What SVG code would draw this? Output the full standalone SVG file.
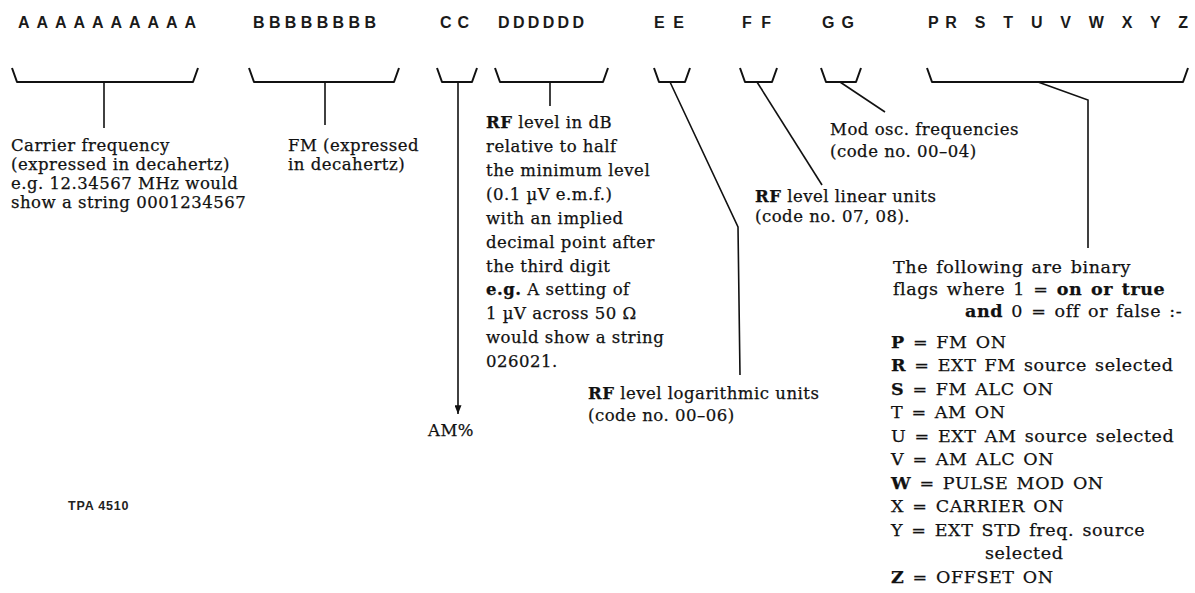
<svg xmlns="http://www.w3.org/2000/svg" width="1195" height="593" viewBox="0 0 1195 593">
<style>
.code{font-family:"Liberation Sans",Arial,sans-serif;font-weight:bold;font-size:16px;fill:#1a1a1a}
.t{font-family:"DejaVu Serif","Liberation Serif",serif;font-size:16.5px;letter-spacing:0.5px;fill:#111;stroke:#111;stroke-width:0.25}
.f{font-size:17.5px;letter-spacing:0.6px;word-spacing:2px}
.b{font-weight:bold}
.br{fill:none;stroke:#111;stroke-width:2;stroke-linejoin:round}
.ln{fill:none;stroke:#111;stroke-width:1.6}
.tag{font-family:"Liberation Sans",Arial,sans-serif;font-weight:bold;font-size:12.5px;letter-spacing:0.8px;fill:#222}
</style>
<defs>
<marker id="ah" viewBox="0 0 10 8" refX="10" refY="4" markerWidth="9" markerHeight="7" markerUnits="userSpaceOnUse" orient="auto">
<path d="M0,0 L10,4 L0,8 Z" fill="#111"/>
</marker>
</defs>
<rect width="1195" height="593" fill="#fff"/>

<g id="node-A">
<text class="code" x="18" y="28" textLength="178" lengthAdjust="spacing">AAAAAAAAAA</text>
<path class="br" d="M12,68 L17,82 L193,82 L198,68"/>
<text class="t"><tspan x="11" y="151">Carrier frequency</tspan><tspan x="11" y="170">(expressed in decahertz)</tspan><tspan x="11" y="189">e.g. 12.34567 MHz would</tspan><tspan x="11" y="208">show a string 0001234567</tspan></text>
</g>

<g id="node-B">
<text class="code" x="253" y="28" textLength="123" lengthAdjust="spacing">BBBBBBBB</text>
<path class="br" d="M249,68 L254,82 L394,82 L399,68"/>
<text class="t"><tspan x="288" y="151">FM (expressed</tspan><tspan x="288" y="170">in decahertz)</tspan></text>
</g>

<g id="node-C">
<text class="code" x="440" y="28" textLength="29" lengthAdjust="spacing">CC</text>
<path class="br" d="M437,68 L442,82 L472,82 L477,68"/>
<text class="t" x="428" y="436">AM%</text>
</g>

<g id="node-D">
<text class="code" x="498" y="28" textLength="86" lengthAdjust="spacing">DDDDDD</text>
<path class="br" d="M495,68 L500,82 L603,82 L608,68"/>
<text class="t">
<tspan x="486" y="128"><tspan class="b">RF</tspan> level in dB</tspan>
<tspan x="486" y="152">relative to half</tspan>
<tspan x="486" y="176">the minimum level</tspan>
<tspan x="486" y="200">(0.1 µV e.m.f.)</tspan>
<tspan x="486" y="224">with an implied</tspan>
<tspan x="486" y="248">decimal point after</tspan>
<tspan x="486" y="272">the third digit</tspan>
<tspan x="486" y="295"><tspan class="b">e.g.</tspan>  A setting of</tspan>
<tspan x="486" y="319">1 µV across 50 Ω</tspan>
<tspan x="486" y="343">would show a string</tspan>
<tspan x="486" y="367">026021.</tspan>
</text>
</g>

<g id="node-E">
<text class="code" x="654" y="28" textLength="30" lengthAdjust="spacing">EE</text>
<path class="br" d="M654,68 L659,82 L685,82 L690,68"/>
<text class="t"><tspan x="588" y="399"><tspan class="b">RF</tspan> level logarithmic units</tspan><tspan x="588" y="421">(code no.  00–06)</tspan></text>
</g>

<g id="node-F">
<text class="code" x="742" y="28" textLength="29" lengthAdjust="spacing">FF</text>
<path class="br" d="M740,68 L745,82 L772,82 L777,68"/>
<text class="t"><tspan x="755" y="202"><tspan class="b">RF</tspan> level linear units</tspan><tspan x="755" y="222">(code no.  07, 08).</tspan></text>
</g>

<g id="node-G">
<text class="code" x="822" y="28" textLength="32" lengthAdjust="spacing">GG</text>
<path class="br" d="M821,68 L826,82 L856,82 L861,68"/>
<text class="t"><tspan x="830" y="135">Mod osc.  frequencies</tspan><tspan x="830" y="157">(code no.  00–04)</tspan></text>
</g>

<g id="node-flags">
<text class="code" x="928" y="28" textLength="260" lengthAdjust="spacing">PR S T U V W X Y Z</text>
<path class="br" d="M927,68 L932,82 L1183,82 L1188,68"/>
<text class="t f">
<tspan x="893" y="273">The following are binary</tspan>
<tspan x="893" y="295">flags where  1 = <tspan class="b">on or true</tspan></tspan>
<tspan x="965" y="317"><tspan class="b">and</tspan>  0 = off or false :-</tspan>
<tspan x="891" y="348"><tspan class="b">P</tspan> =  FM ON</tspan>
<tspan x="891" y="371"><tspan class="b">R</tspan> =  EXT FM source selected</tspan>
<tspan x="891" y="395"><tspan class="b">S</tspan> =  FM ALC ON</tspan>
<tspan x="891" y="418">T =  AM ON</tspan>
<tspan x="891" y="442">U =  EXT AM source selected</tspan>
<tspan x="891" y="465">V =  AM ALC ON</tspan>
<tspan x="891" y="489"><tspan class="b">W</tspan> =  PULSE MOD ON</tspan>
<tspan x="891" y="512">X =  CARRIER ON</tspan>
<tspan x="891" y="536">Y =  EXT STD freq. source</tspan>
<tspan x="985" y="559">selected</tspan>
<tspan x="891" y="583"><tspan class="b">Z</tspan> =  OFFSET ON</tspan>
</text>
</g>

<g id="label-tpa">
<text class="tag" x="68" y="510">TPA 4510</text>
</g>

<g id="connectors">
<line class="ln" x1="104" y1="82" x2="104" y2="128"/>
<line class="ln" x1="325" y1="82" x2="325" y2="125"/>
<line class="ln" x1="458" y1="82" x2="458" y2="414" marker-end="url(#ah)"/>
<line class="ln" x1="550" y1="82" x2="550" y2="106"/>
<polyline class="ln" points="670,82 738,227 740,375"/>
<line class="ln" x1="757" y1="82" x2="822" y2="185"/>
<line class="ln" x1="840" y1="82" x2="885" y2="112"/>
<polyline class="ln" points="1038,82 1088,100 1088,248"/>
</g>
</svg>
